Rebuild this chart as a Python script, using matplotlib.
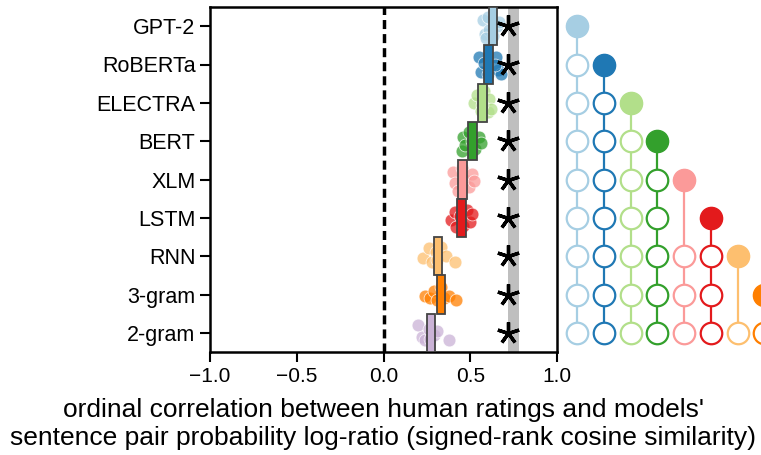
import matplotlib
matplotlib.use("Agg")
import matplotlib.pyplot as plt
import numpy as np

plt.rcParams['font.family'] = ['Liberation Sans', 'DejaVu Sans']

models = ["GPT-2", "RoBERTa", "ELECTRA", "BERT", "XLM", "LSTM", "RNN", "3-gram", "2-gram"]
colors = ["#a6cee3", "#1f78b4", "#b2df8a", "#33a02c", "#fb9a99", "#e31a1c", "#fdbf6f", "#ff7f00", "#cab2d6"]

# bar extents (lower, upper)
bar_lo = [0.606, 0.581, 0.546, 0.489, 0.431, 0.425, 0.291, 0.307, 0.252]
bar_hi = [0.656, 0.630, 0.598, 0.537, 0.480, 0.474, 0.339, 0.353, 0.299]

# individual points: values and vertical jitter (row units)
pts_x = [
    [0.575, 0.585, 0.600, 0.610, 0.630, 0.655, 0.665, 0.590],
    [0.550, 0.560, 0.580, 0.600, 0.650, 0.660, 0.680, 0.640],
    [0.520, 0.540, 0.560, 0.580, 0.600, 0.610, 0.620, 0.570],
    [0.450, 0.460, 0.470, 0.490, 0.510, 0.530, 0.550, 0.560],
    [0.400, 0.410, 0.430, 0.450, 0.470, 0.490, 0.510, 0.520],
    [0.390, 0.410, 0.420, 0.440, 0.460, 0.480, 0.500, 0.510],
    [0.230, 0.260, 0.280, 0.300, 0.310, 0.330, 0.360, 0.410],
    [0.240, 0.270, 0.290, 0.310, 0.330, 0.350, 0.380, 0.420],
    [0.200, 0.220, 0.240, 0.260, 0.270, 0.290, 0.310, 0.380],
]
pts_dy = [
    [-0.15, 0.20, -0.25, 0.10, 0.25, 0.00, -0.10, 0.30],
    [-0.20, 0.20, -0.05, 0.25, -0.20, 0.15, 0.25, 0.00],
    [0.00, -0.20, 0.20, -0.30, 0.25, -0.10, 0.15, 0.05],
    [0.25, -0.10, 0.10, -0.25, 0.00, 0.20, -0.10, 0.05],
    [-0.20, 0.10, 0.30, -0.30, 0.00, 0.20, -0.15, 0.05],
    [0.05, -0.15, 0.25, -0.05, 0.20, -0.20, 0.10, -0.10],
    [0.05, -0.20, 0.15, -0.10, 0.10, -0.25, 0.00, 0.15],
    [0.05, 0.10, -0.10, 0.15, -0.20, 0.10, 0.05, 0.15],
    [-0.20, 0.10, 0.20, -0.10, 0.15, 0.05, -0.05, 0.20],
]

noise_ceiling = (0.72, 0.78)
star_x = 0.72

# significance: for each model (column), rows it significantly beats
sig_rows = [
    [1, 2, 3, 4, 5, 6, 7, 8],
    [2, 3, 4, 5, 6, 7, 8],
    [3, 4, 5, 6, 7, 8],
    [4, 5, 6, 7, 8],
    [6, 7, 8],
    [6, 7, 8],
    [8],
    [8],
    [],
]

fig = plt.figure(figsize=(7.61, 4.55), dpi=100)
ax = fig.add_axes([210/761, 1-352/455, 347/761, 345/455])

n = len(models)
rows = np.arange(n)

ax.axvspan(noise_ceiling[0], noise_ceiling[1], color="#bfbfbf", lw=0, zorder=0)
ax.axvline(0, color="black", lw=2.5, dashes=(2.6, 1.45), zorder=1)

for i in range(n):
    ax.scatter(pts_x[i], [i + d for d in pts_dy[i]], s=85, color=colors[i],
               edgecolor="white", linewidth=0.6, alpha=0.75, zorder=2)

ax.barh(rows, [h - l for l, h in zip(bar_lo, bar_hi)], left=bar_lo, height=1.0,
        color=colors, edgecolor="#444444", linewidth=1.3, zorder=3)

ax.plot([star_x] * n, rows, linestyle="none", marker=(5, 2, 0), markersize=16,
        markeredgewidth=2.4, color="black", zorder=4)

# significance panel
col_x0 = 1.117
col_dx = 0.1539
for i in range(n):
    cx = col_x0 + i * col_dx
    if sig_rows[i]:
        ax.plot([cx, cx], [i, max(sig_rows[i])], color=colors[i], lw=1.6,
                clip_on=False, zorder=5)
        ax.plot([cx] * len(sig_rows[i]), sig_rows[i], linestyle="none", marker="o",
                markersize=15.5, markerfacecolor="white", markeredgecolor=colors[i],
                markeredgewidth=1.6, clip_on=False, zorder=6)
    ax.plot([cx], [i], linestyle="none", marker="o", markersize=16,
            color=colors[i], clip_on=False, zorder=6)

ax.set_xlim(-1, 1)
ax.set_ylim(n - 0.5, -0.5)
ax.set_yticks(rows)
ax.set_yticklabels(models, fontsize=15.5)
ax.set_xticks([-1.0, -0.5, 0.0, 0.5, 1.0])
ax.set_xticklabels(["\u22121.0", "\u22120.5", "0.0", "0.5", "1.0"], fontsize=15)
ax.tick_params(width=1.5, length=7)
for s in ax.spines.values():
    s.set_linewidth(1.8)
ax.set_xlabel("ordinal correlation between human ratings and models'\n"
              "sentence pair probability log-ratio (signed-rank cosine similarity)",
              fontsize=19, linespacing=1.22, labelpad=9)

fig.savefig("out.png", dpi=100)
